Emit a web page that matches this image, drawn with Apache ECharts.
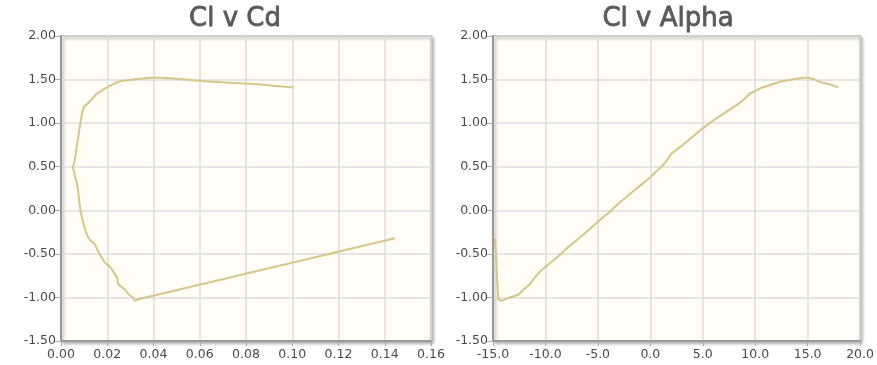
<!DOCTYPE html>
<html>
<head>
<meta charset="utf-8">
<script src="https://cdn.jsdelivr.net/npm/echarts@6/dist/echarts.min.js"></script>
<style>
html,body{margin:0;padding:0;background:#fff;}
#chart{width:877px;height:365px;}
</style>
</head>
<body>
<div id="chart"></div>
<script>
// Polar data: angle of attack (deg), lift coefficient, drag coefficient
var alpha = [-14.8,-14.5,-14.2,-13.4,-12.6,-12.0,-11.5,-11.0,-10.5,-10.0,-9.5,-9.0,-8.5,-8.0,-7.5,-7.0,-6.5,-6.0,-5.0,-4.0,-3.0,-2.0,-1.0,0.0,0.5,1.0,1.5,2.0,3.0,4.0,5.0,6.0,7.0,7.5,8.0,8.5,9.0,9.5,10.0,10.5,11.0,12.0,12.5,13.0,13.5,14.0,14.5,15.0,15.5,16.0,16.5,17.0,17.5,17.9];
var cl = [-0.32,-1.02,-1.04,-1.00,-0.97,-0.90,-0.85,-0.77,-0.70,-0.65,-0.60,-0.55,-0.50,-0.44,-0.39,-0.34,-0.29,-0.24,-0.13,-0.03,0.08,0.18,0.28,0.38,0.44,0.49,0.56,0.65,0.74,0.84,0.94,1.03,1.11,1.15,1.19,1.23,1.28,1.34,1.37,1.40,1.42,1.46,1.48,1.49,1.50,1.51,1.52,1.52,1.51,1.48,1.46,1.45,1.43,1.41];
var cd = [0.1444,0.0335,0.0320,0.0310,0.0295,0.0272,0.0248,0.0242,0.0225,0.0212,0.0190,0.0178,0.0166,0.0155,0.0147,0.0125,0.0114,0.0106,0.0095,0.0086,0.0080,0.0076,0.0071,0.0062,0.0056,0.0052,0.0058,0.0064,0.0068,0.0075,0.0080,0.0086,0.0091,0.0095,0.0100,0.0118,0.0135,0.0155,0.0175,0.0190,0.0205,0.0235,0.0255,0.0280,0.0310,0.0345,0.0390,0.0430,0.0500,0.0620,0.0750,0.0840,0.0920,0.1003];
var titles = ['Cl v Cd', 'Cl v Alpha'];
var cdTicks = {min: 0, max: 0.16, interval: 0.02};
var alphaTicks = {min: -15, max: 20, interval: 5};
var clTicks = {min: -1.5, max: 2, interval: 0.5};

var cdPairs = cd.map(function(v, i){ return [v, cl[i]]; });
var alphaPairs = alpha.map(function(v, i){ return [v, cl[i]]; });

var FONT = 'DejaVu Sans';
var labelColor = '#4a4a4a';
var lineColor = '#d5c68c';

function xAxis(idx, ticks, digits){
  return {
    type: 'value', gridIndex: idx, min: ticks.min, max: ticks.max, interval: ticks.interval,
    axisLine: {show: true, onZero: false, lineStyle: {color: '#999', width: 2}},
    axisTick: {show: true, length: 5, lineStyle: {color: '#aaa'}},
    axisLabel: {color: labelColor, fontFamily: FONT, fontSize: 12.5, margin: 7,
      showMaxLabel: true, showMinLabel: true,
      formatter: function(v){ return v.toFixed(digits); }},
    splitLine: {show: true, lineStyle: {color: '#ddd', width: 1.5}}
  };
}
function yAxis(idx){
  return {
    type: 'value', gridIndex: idx, min: clTicks.min, max: clTicks.max, interval: clTicks.interval,
    axisLine: {show: true, onZero: false, lineStyle: {color: '#999', width: 2}},
    axisTick: {show: true, length: 7, lineStyle: {color: '#aaa'}},
    axisLabel: {color: labelColor, fontFamily: FONT, fontSize: 12.5, margin: 5,
      formatter: function(v){ return v.toFixed(2); }},
    splitLine: {show: true, lineStyle: {color: '#ddd', width: 1.5}}
  };
}

var titleStyle = {fontFamily: FONT, fontSize: 26, fontWeight: 'normal', color: '#5a5a5a',
  textBorderColor: '#5a5a5a', textBorderWidth: 0.8};

var chart = echarts.init(document.getElementById('chart'), null, {renderer: 'canvas'});
chart.setOption({
  animation: false,
  title: [
    {text: titles[0], left: 230, top: 1, textAlign: 'center', textStyle: titleStyle},
    {text: titles[1], left: 663, top: 1, textAlign: 'center', textStyle: titleStyle}
  ],
  grid: [
    {left: 61, top: 36, width: 370, height: 305, show: true, backgroundColor: '#fffdf5',
     borderColor: '#aaa', borderWidth: 2, shadowColor: 'rgba(0,0,0,0.25)', shadowBlur: 3, shadowOffsetX: 2, shadowOffsetY: 2},
    {left: 493, top: 36, width: 371, height: 305, show: true, backgroundColor: '#fffdf5',
     borderColor: '#aaa', borderWidth: 2, shadowColor: 'rgba(0,0,0,0.25)', shadowBlur: 3, shadowOffsetX: 2, shadowOffsetY: 2}
  ],
  xAxis: [xAxis(0, cdTicks, 2), xAxis(1, alphaTicks, 1)],
  yAxis: [yAxis(0), yAxis(1)],
  series: [
    {type: 'line', xAxisIndex: 0, yAxisIndex: 0, data: cdPairs, showSymbol: false, symbol: 'none',
     lineStyle: {color: lineColor, width: 2}, z: 3},
    {type: 'line', xAxisIndex: 1, yAxisIndex: 1, data: alphaPairs, showSymbol: false, symbol: 'none',
     lineStyle: {color: lineColor, width: 2}, z: 3}
  ]
});
</script>
</body>
</html>
